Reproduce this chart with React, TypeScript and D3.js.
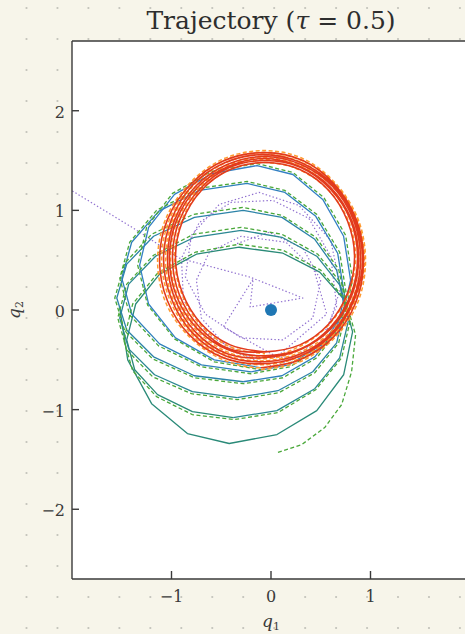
import * as d3 from "d3";
import React from "react";

type Pt = [number, number];

// true trajectory (solid), one array per loop
const trueLoops: Pt[][] = [
  [[-1.52, 0.02], [-1.44, -0.5], [-1.2, -0.94], [-0.84, -1.24], [-0.42, -1.34], [0.06, -1.25], [0.46, -1.01], [0.73, -0.65], [0.82, -0.22], [0.73, 0.11], [0.49, 0.38], [0.12, 0.57], [-0.32, 0.63], [-0.75, 0.56], [-1.12, 0.36], [-1.36, 0.06], [-1.45, -0.3], [-1.37, -0.6], [-1.14, -0.85], [-0.79, -1.02], [-0.38, -1.08]],
  [[-0.38, -1.08], [0.06, -1.01], [0.44, -0.79], [0.69, -0.48], [0.78, -0.1], [0.7, 0.24], [0.46, 0.54], [0.11, 0.73], [-0.3, 0.8], [-0.77, 0.73], [-1.16, 0.54], [-1.43, 0.26], [-1.52, -0.08], [-1.43, -0.39], [-1.17, -0.65], [-0.79, -0.82], [-0.34, -0.88]],
  [[-0.34, -0.88], [0.07, -0.81], [0.42, -0.62], [0.66, -0.33], [0.74, 0.02], [0.66, 0.4], [0.44, 0.71], [0.11, 0.93], [-0.28, 1.0], [-0.77, 0.93], [-1.18, 0.74], [-1.45, 0.46], [-1.55, 0.12], [-1.45, -0.2], [-1.18, -0.47], [-0.77, -0.66], [-0.28, -0.72]],
  [[-0.28, -0.72], [0.11, -0.66], [0.44, -0.47], [0.66, -0.19], [0.74, 0.14], [0.67, 0.57], [0.45, 0.94], [0.14, 1.18], [-0.24, 1.27], [-0.72, 1.2], [-1.13, 0.99], [-1.4, 0.68], [-1.5, 0.32], [-1.4, -0.04], [-1.12, -0.34], [-0.7, -0.55], [-0.2, -0.62]],
  [[-0.2, -0.62], [0.18, -0.55], [0.51, -0.35], [0.72, -0.05], [0.8, 0.3], [0.73, 0.74], [0.52, 1.11], [0.22, 1.36], [-0.14, 1.45], [-0.59, 1.37], [-0.97, 1.16], [-1.23, 0.83], [-1.32, 0.45], [-1.23, 0.06], [-0.96, -0.28], [-0.57, -0.5], [-0.1, -0.58]],
];
const loopColors = ["#2a8a78", "#2b8792", "#2c83a8", "#2f80bb", "#3380c4"];

// true trajectory on the limit cycle (solid)
const trueRing: Pt[] = [
  [-0.1, -0.58], [0.29, -0.5], [0.63, -0.27], [0.85, 0.07], [0.93, 0.48], [0.86, 0.9], [0.64, 1.26], [0.32, 1.5], [-0.06, 1.58], [-0.47, 1.5], [-0.81, 1.26], [-1.04, 0.91], [-1.12, 0.5], [-1.04, 0.09], [-0.82, -0.25], [-0.48, -0.48],
  [-0.08, -0.54], [0.3, -0.46], [0.63, -0.23], [0.84, 0.11], [0.92, 0.51], [0.84, 0.91], [0.63, 1.25], [0.3, 1.48], [-0.08, 1.56], [-0.46, 1.48], [-0.79, 1.25], [-1.0, 0.91], [-1.08, 0.51], [-1.0, 0.11], [-0.79, -0.23], [-0.46, -0.46],
  [-0.07, -0.52], [0.3, -0.44], [0.62, -0.22], [0.83, 0.12], [0.9, 0.51], [0.83, 0.9], [0.62, 1.24], [0.3, 1.46], [-0.07, 1.54], [-0.44, 1.46], [-0.76, 1.24], [-0.97, 0.9], [-1.04, 0.51], [-0.97, 0.12], [-0.76, -0.22], [-0.44, -0.44],
  [-0.07, -0.48], [0.29, -0.4], [0.6, -0.19], [0.81, 0.14], [0.88, 0.52], [0.81, 0.9], [0.6, 1.23], [0.29, 1.44], [-0.07, 1.52], [-0.43, 1.44], [-0.74, 1.23], [-0.95, 0.9], [-1.02, 0.52], [-0.95, 0.14], [-0.74, -0.19], [-0.43, -0.4],
  [-0.06, -0.46], [0.3, -0.39], [0.6, -0.17], [0.8, 0.15], [0.87, 0.52], [0.8, 0.9], [0.6, 1.21], [0.3, 1.43], [-0.06, 1.5], [-0.42, 1.43], [-0.72, 1.21], [-0.92, 0.9], [-0.99, 0.52], [-0.92, 0.15], [-0.72, -0.17], [-0.42, -0.39],
  [-0.06, -0.42], [0.29, -0.35], [0.58, -0.14], [0.77, 0.17], [0.84, 0.53], [0.77, 0.89], [0.58, 1.2], [0.29, 1.41], [-0.06, 1.48], [-0.41, 1.41], [-0.7, 1.2], [-0.89, 0.89], [-0.96, 0.53], [-0.89, 0.17], [-0.7, -0.14], [-0.41, -0.35], [-0.06, -0.42],
];

// predicted trajectory (dashed)
const predSpiral: Pt[] = [
  [0.07, -1.43], [0.31, -1.35], [0.54, -1.18], [0.71, -0.95], [0.81, -0.62], [0.85, -0.25],
  [0.75, 0.1], [0.5, 0.4], [0.12, 0.6], [-0.32, 0.66], [-0.76, 0.58], [-1.14, 0.37], [-1.39, 0.06], [-1.48, -0.3],
  [-1.39, -0.61], [-1.15, -0.87], [-0.79, -1.05], [-0.37, -1.1], [0.07, -1.03], [0.45, -0.8], [0.71, -0.48], [0.8, -0.09],
  [0.72, 0.25], [0.47, 0.56], [0.11, 0.76], [-0.3, 0.83], [-0.78, 0.76], [-1.18, 0.55], [-1.45, 0.26], [-1.54, -0.08],
  [-1.45, -0.4], [-1.19, -0.67], [-0.8, -0.84], [-0.34, -0.9], [0.08, -0.83], [0.44, -0.63], [0.68, -0.33], [0.76, 0.02],
  [0.68, 0.41], [0.45, 0.73], [0.11, 0.95], [-0.28, 1.03], [-0.78, 0.96], [-1.2, 0.76], [-1.47, 0.47], [-1.57, 0.12],
  [-1.47, -0.21], [-1.19, -0.49], [-0.77, -0.68], [-0.28, -0.74], [0.12, -0.68], [0.46, -0.48], [0.68, -0.19], [0.76, 0.14],
  [0.69, 0.58], [0.46, 0.96], [0.14, 1.2], [-0.24, 1.29], [-0.73, 1.22], [-1.15, 1.0], [-1.42, 0.68], [-1.52, 0.32],
  [-1.42, -0.05], [-1.13, -0.36], [-0.7, -0.57], [-0.2, -0.64], [0.19, -0.57], [0.53, -0.36], [0.74, -0.05], [0.82, 0.3],
  [0.75, 0.75], [0.53, 1.13], [0.22, 1.38], [-0.14, 1.47], [-0.6, 1.39], [-0.99, 1.17], [-1.25, 0.83], [-1.34, 0.45],
  [-1.24, 0.05], [-0.97, -0.29], [-0.57, -0.52], [-0.1, -0.6],
];
const predRing: Pt[] = [
  [-0.1, -0.6], [0.29, -0.52], [0.64, -0.28], [0.87, 0.07], [0.95, 0.48], [0.88, 0.9], [0.65, 1.27], [0.32, 1.52], [-0.06, 1.6], [-0.47, 1.52], [-0.82, 1.27], [-1.06, 0.91], [-1.14, 0.5], [-1.06, 0.08], [-0.83, -0.26], [-0.48, -0.5],
  [-0.08, -0.58], [0.31, -0.48], [0.64, -0.24], [0.86, 0.11], [0.94, 0.51], [0.86, 0.92], [0.64, 1.27], [0.31, 1.5], [-0.08, 1.58], [-0.47, 1.5], [-0.8, 1.26], [-1.02, 0.91], [-1.1, 0.51], [-1.02, 0.11], [-0.8, -0.24], [-0.47, -0.48],
  [-0.07, -0.55], [0.31, -0.46], [0.63, -0.23], [0.85, 0.12], [0.92, 0.51], [0.85, 0.9], [0.63, 1.25], [0.31, 1.48], [-0.07, 1.56], [-0.45, 1.48], [-0.78, 1.25], [-0.99, 0.9], [-1.06, 0.51], [-0.99, 0.12], [-0.78, -0.22], [-0.45, -0.45],
  [-0.06, -0.51], [0.3, -0.42], [0.62, -0.2], [0.83, 0.14], [0.9, 0.52], [0.83, 0.91], [0.62, 1.24], [0.3, 1.45], [-0.07, 1.53], [-0.44, 1.45], [-0.75, 1.24], [-0.97, 0.91], [-1.04, 0.52], [-0.97, 0.14], [-0.75, -0.2], [-0.44, -0.42],
  [-0.06, -0.49], [0.29, -0.4], [0.6, -0.18], [0.81, 0.15], [0.88, 0.52], [0.81, 0.9], [0.6, 1.22], [0.29, 1.44], [-0.06, 1.51], [-0.42, 1.44], [-0.73, 1.22], [-0.94, 0.9], [-1.01, 0.52], [-0.94, 0.15], [-0.73, -0.18], [-0.42, -0.4],
  [-0.06, -0.47], [0.28, -0.37], [0.58, -0.15], [0.78, 0.17], [0.85, 0.53], [0.78, 0.89], [0.58, 1.2], [0.28, 1.41], [-0.06, 1.48], [-0.41, 1.41], [-0.71, 1.2], [-0.9, 0.89], [-0.97, 0.53], [-0.9, 0.17], [-0.71, -0.15], [-0.41, -0.37], [-0.06, -0.44],
];

// uncontrolled / reference path (dotted)
const dottedPath: Pt[] = [
  [-2.12, 1.27], [-1.38, 0.82], [-0.92, 0.52], [-0.21, 0.33], [0.32, 0.12], [-0.21, 0.03], [-0.18, 0.31], [-0.48, -0.17],
  [0.06, -0.47], [0.56, -0.04], [0.43, 0.41], [0.15, 0.68], [-0.3, 0.74], [-0.62, 0.58], [-0.75, 0.3], [-0.7, -0.08],
  [-0.42, -0.4], [0.02, -0.57], [0.46, -0.4], [0.66, 0.04], [0.6, 0.54], [0.38, 0.92], [0.02, 1.1], [-0.4, 1.08],
  [-0.72, 0.88], [-0.9, 0.52], [-0.88, 0.1], [-0.62, -0.26], [-0.2, -0.48], [0.25, -0.47], [0.56, -0.22], [0.7, 0.22],
  [0.6, 0.7], [0.28, 1.05], [-0.12, 1.18], [-0.52, 1.06], [-0.8, 0.75], [-0.86, 0.33], [-0.66, -0.04], [-0.3, -0.28],
  [0.12, -0.3], [0.42, -0.08], [0.5, 0.3], [0.32, 0.62], [-0.02, 0.78], [-0.36, 0.66],
];

const target: Pt = [0, 0];

const xTicks = [-1, 0, 1];
const yTicks = [-2, -1, 0, 1, 2];

const fmt = (v: number) => (v < 0 ? "\u2212" + Math.abs(v) : String(v));

export default function App() {
  const width = 465;
  const height = 634;
  const left = 72;
  const top = 41;
  const right = 470;
  const bottom = 579;

  const x = d3.scaleLinear().domain([-2, 2]).range([left, right]);
  const y = d3.scaleLinear().domain([-2.7, 2.7]).range([bottom, top]);

  // the limit cycle is drawn smooth, the transient loops keep their sampled corners
  const smooth = d3
    .line<Pt>()
    .x((d) => x(d[0]))
    .y((d) => y(d[1]))
    .curve(d3.curveCatmullRom.alpha(0.5));

  const straight = d3
    .line<Pt>()
    .x((d) => x(d[0]))
    .y((d) => y(d[1]));

  const dotsX = d3.range(0, 15).map((i) => 26.5 + i * 30.96);
  const dotsY = d3.range(0, 21).map((j) => 8 + j * 31);

  const font = "'DejaVu Serif', serif";

  return (
    <svg width={width} height={height} style={{ position: "absolute", left: 0, top: 0 }}>
      <rect width={width} height={height} fill="#f7f5ea" />
      {dotsY.map((dy) =>
        dotsX.map((dx) => <circle key={dx + "-" + dy} cx={dx} cy={dy} r={1.1} fill="#c2c2ba" />)
      )}
      <defs>
        <clipPath id="plot">
          <rect x={left} y={top} width={right - left} height={bottom - top} />
        </clipPath>
      </defs>
      <rect x={left} y={top} width={right - left} height={bottom - top} fill="#fff" />

      <g clipPath="url(#plot)" fill="none" strokeLinejoin="round">
        <path d={straight(dottedPath) || ""} stroke="#8f6fcf" strokeWidth={1.2} strokeDasharray="1.4,2.2" />
        {trueLoops.map((loop, i) => (
          <path key={"t" + i} d={straight(loop) || ""} stroke={loopColors[i]} strokeWidth={1.3} />
        ))}
        <path d={straight(predSpiral) || ""} stroke="#4aa83a" strokeWidth={1.3} strokeDasharray="4,2.5" />
        <path d={smooth(predRing) || ""} stroke="#ff9a30" strokeWidth={1.5} strokeDasharray="4,2.5" />
        <path d={smooth(trueRing) || ""} stroke="#e23a1c" strokeWidth={1.6} />
        <circle cx={x(target[0])} cy={y(target[1])} r={6} fill="#1f77b4" />
      </g>

      {/* frame */}
      <g stroke="#3a3a3a" strokeWidth={1.4} fill="none">
        <line x1={left} y1={top} x2={width} y2={top} />
        <line x1={left} y1={bottom} x2={width} y2={bottom} />
        <line x1={left} y1={top} x2={left} y2={bottom} />
        {xTicks.map((t) => (
          <line key={"xt" + t} x1={x(t)} x2={x(t)} y1={bottom} y2={bottom - 8} />
        ))}
        {yTicks.map((t) => (
          <line key={"yt" + t} x1={left} x2={left + 7} y1={y(t)} y2={y(t)} />
        ))}
      </g>

      <g fontFamily={font} fontSize={16} fill="#3a3a3a">
        {xTicks.map((t) => (
          <text key={"xl" + t} x={x(t)} y={602} textAnchor="middle">
            {fmt(t)}
          </text>
        ))}
        {yTicks.map((t) => (
          <text key={"yl" + t} x={65} y={y(t) + 7} textAnchor="end">
            {fmt(t)}
          </text>
        ))}
      </g>

      <text x={271} y={627} textAnchor="middle" fontFamily={font} fontSize={17} fill="#3a3a3a">
        <tspan fontStyle="italic">q</tspan>
        <tspan fontSize={11} dy={3}>1</tspan>
      </text>
      <text
        transform={`translate(20, 310) rotate(-90)`}
        textAnchor="middle"
        fontFamily={font}
        fontSize={17}
        fill="#3a3a3a"
      >
        <tspan fontStyle="italic">q</tspan>
        <tspan fontSize={11} dy={3}>2</tspan>
      </text>

      <text x={271} y={29} textAnchor="middle" fontFamily={font} fontSize={25} fill="#2e2e2e">
        Trajectory (<tspan fontStyle="italic">τ</tspan> = 0.5)
      </text>
    </svg>
  );
}
